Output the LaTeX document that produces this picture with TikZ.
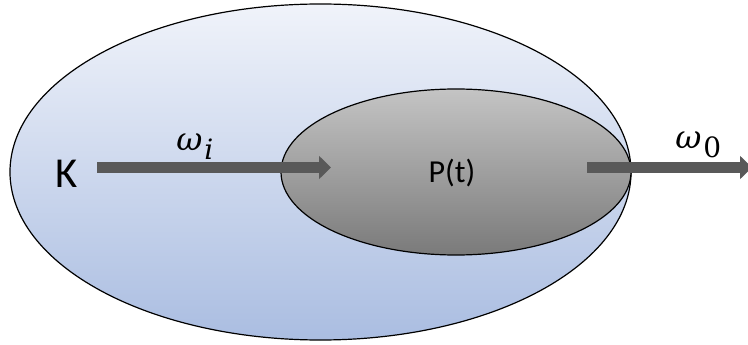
\documentclass[tikz,border=0pt]{standalone}
\usepackage{fontspec}
\setmainfont{Carlito}
\newfontfamily\symfont{DejaVu Serif}
\usetikzlibrary{shapes.geometric,arrows.meta}
\definecolor{flowgray}{HTML}{595959}
\tikzset{
  region/.style={ellipse, draw=black, line width=0.9pt, inner sep=0pt},
  flow/.style={draw=flowgray, line width=8.25pt,
    -{Triangle[length=9pt,width=17pt]}},
  lbl/.style={inner sep=0pt, text=black, anchor=base},
  rate/.style={inner sep=0pt, text=black, anchor=base west,
    font=\symfont\fontsize{24}{24}\selectfont}
}
% rate symbol with a lowered subscript
\newcommand{\ratesym}[1]{\textit{ω}\hspace{1.5pt}\raisebox{-6.5pt}{\fontsize{21}{21}\selectfont #1}}
\begin{document}
\begin{tikzpicture}[x=0.75pt,y=-0.75pt]
  \useasboundingbox (0,0) rectangle (748,345);
  % outer domain K
  \node[region, minimum width=621*0.75pt, minimum height=336*0.75pt,
        top color={rgb,255:red,240;green,243;blue,250},
        bottom color={rgb,255:red,170;green,189;blue,225}]
        (outer) at (320.5,172) {};
  % inner region P(t)
  \node[region, minimum width=350*0.75pt, minimum height=166*0.75pt,
        top color={rgb,255:red,196;green,196;blue,196},
        bottom color={rgb,255:red,122;green,122;blue,122}]
        (inner) at (456,172) {};
  % labels
  \node[lbl, font=\fontsize{32}{32}\selectfont] (K) at (66.5,187) {K};
  \node[lbl, font=\fontsize{24}{24}\selectfont] (P) at (452,183) {P(t)};
  % flow endpoints
  \coordinate (inStart) at (97,167.5);
  \coordinate (inEnd) at (331,167.5);
  \coordinate (outStart) at (587,167.5);
  \coordinate (outEnd) at (752,167.5);
  \draw[flow] (inStart) -- (inEnd);
  \draw[flow] (outStart) -- (outEnd);
  \node[rate] (wi) at (176,151) {\ratesym{\itshape i}};
  \node[rate] (wo) at (675,149) {\ratesym{0}};
\end{tikzpicture}
\end{document}
